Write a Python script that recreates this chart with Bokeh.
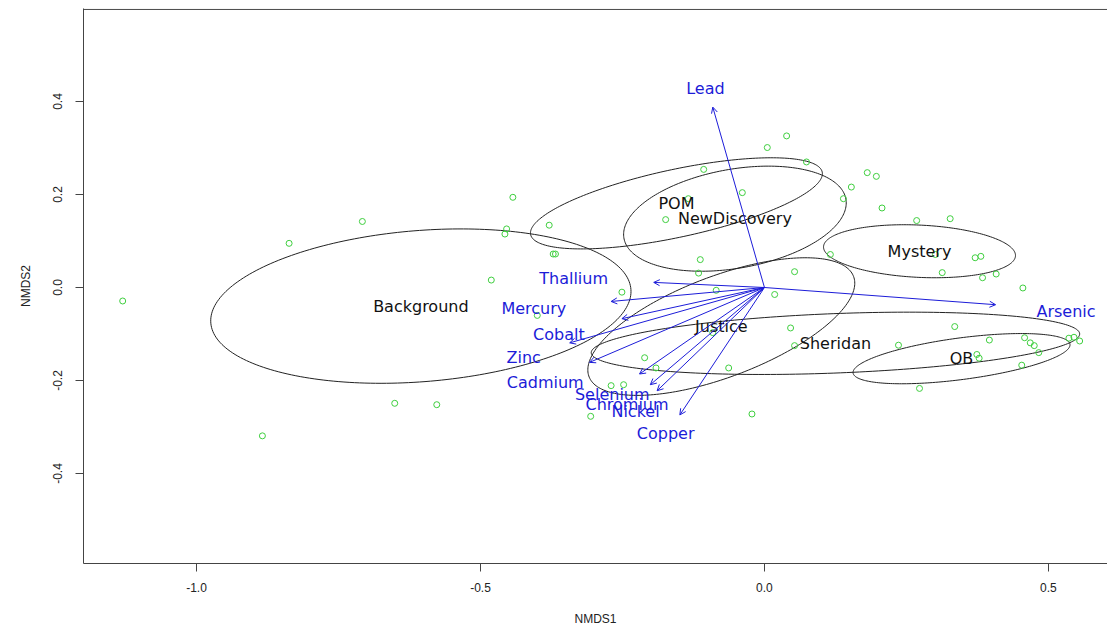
import numpy as np
from bokeh.plotting import figure
from bokeh.models import ColumnDataSource, Arrow, OpenHead, Span, FixedTicker, Range1d
from bokeh.core.properties import value
from bokeh.embed import file_html
from bokeh.resources import INLINE

# ---- site scores (NMDS1, NMDS2) ----
site_x = [-1.130, -0.837, -0.708, -0.481, -0.651, -0.577, -0.884, 0.039, 0.005, 0.074,
          -0.107, 0.181, 0.197, 0.153, 0.139, -0.039, -0.443, -0.379, -0.454, -0.457,
          -0.174, -0.372, -0.368, -0.113, -0.134, 0.207, 0.268, 0.327, 0.301, 0.371,
          0.381, 0.313, 0.384, 0.408, 0.455, 0.053, 0.116, 0.046, 0.053, 0.236,
          0.335, 0.396, 0.458, 0.468, 0.475, 0.483, 0.453, 0.374, 0.378, 0.273,
          0.536, 0.545, 0.555, -0.251, -0.116, -0.085, 0.018, -0.400, -0.091, -0.211,
          -0.191, -0.063, -0.270, -0.248, -0.306, -0.022]
site_y = [-0.029, 0.095, 0.142, 0.016, -0.249, -0.252, -0.319, 0.326, 0.301, 0.270,
          0.254, 0.247, 0.239, 0.216, 0.191, 0.204, 0.194, 0.134, 0.126, 0.115,
          0.146, 0.072, 0.072, 0.060, 0.191, 0.171, 0.144, 0.148, 0.071, 0.064,
          0.067, 0.032, 0.021, 0.029, -0.001, 0.034, 0.071, -0.087, -0.125, -0.124,
          -0.084, -0.113, -0.108, -0.119, -0.125, -0.140, -0.167, -0.144, -0.152, -0.217,
          -0.109, -0.107, -0.115, -0.010, 0.031, -0.006, -0.015, -0.060, -0.097, -0.151,
          -0.173, -0.173, -0.211, -0.209, -0.277, -0.272]

# ---- group ellipses: centre, half-extent in x / y, correlation ----
groups = ["Background", "POM", "NewDiscovery", "Mystery", "Justice", "Sheridan", "OB"]
grp_cx = [-0.605, -0.155, -0.052, 0.273, -0.076, 0.125, 0.347]
grp_cy = [-0.040, 0.181, 0.148, 0.078, -0.084, -0.120, -0.153]
grp_wx = [0.370, 0.257, 0.196, 0.169, 0.235, 0.430, 0.191]
grp_wy = [0.166, 0.098, 0.113, 0.057, 0.148, 0.067, 0.054]
grp_rho = [0.19, 0.65, 0.30, -0.16, 0.63, 0.30, 0.55]

# ---- fitted environmental vectors ----
metals = ["Lead", "Arsenic", "Thallium", "Mercury", "Cobalt", "Zinc", "Cadmium",
          "Selenium", "Chromium", "Nickel", "Copper"]
vec_x = [-0.091, 0.407, -0.195, -0.270, -0.251, -0.343, -0.308, -0.220, -0.201, -0.189, -0.149]
vec_y = [0.388, -0.037, 0.011, -0.030, -0.067, -0.119, -0.161, -0.186, -0.209, -0.222, -0.274]
lab_x = [-0.104, 0.531, -0.336, -0.406, -0.362, -0.424, -0.386, -0.268, -0.242, -0.227, -0.174]
lab_y = [0.427, -0.052, 0.019, -0.046, -0.100, -0.150, -0.204, -0.230, -0.252, -0.267, -0.315]

x_ticks = [-1.0, -0.5, 0.0, 0.5]
x_tick_labels = ["-1.0", "-0.5", "0.0", "0.5"]
y_ticks = [-0.4, -0.2, 0.0, 0.2, 0.4]
y_tick_labels = ["-0.4", "-0.2", "0.0", "0.2", "0.4"]

BLUE = "#1c1cd8"
GREEN = "#3fcf3f"
AXC = "#444444"

p = figure(output_backend="svg", toolbar_location=None,
           frame_width=1024, frame_height=555,
           min_border_left=83, min_border_right=0, min_border_top=8, min_border_bottom=64,
           x_range=Range1d(-1.199, 0.604), y_range=Range1d(-0.5935, 0.600),
           background_fill_color="white", border_fill_color="white")
p.outline_line_color = None
p.xgrid.visible = False
p.ygrid.visible = False

for ax, ticks, labs in ((p.xaxis, x_ticks, x_tick_labels), (p.yaxis, y_ticks, y_tick_labels)):
    ax.ticker = FixedTicker(ticks=ticks)
    ax.major_label_overrides = {t: l for t, l in zip(ticks, labs)}
    ax.minor_tick_line_color = None
    ax.major_tick_in = 0
    ax.major_tick_out = 8
    ax.major_tick_line_color = AXC
    ax.axis_line_color = AXC
    ax.major_label_text_font = "Liberation Sans"
    ax.major_label_text_font_size = "12px"
    ax.major_label_text_color = "#222222"
    ax.axis_label_text_font = "Liberation Sans"
    ax.axis_label_text_font_size = "12px"
    ax.axis_label_text_font_style = "normal"
    ax.axis_label_text_color = "#222222"

p.xaxis.axis_label = "NMDS1"
p.yaxis.axis_label = "NMDS2"
p.xaxis.major_label_standoff = 11
p.xaxis.axis_label_standoff = 17
p.yaxis.major_label_orientation = "vertical"
p.yaxis.major_label_standoff = 13
p.yaxis.axis_label_standoff = 18

# top border of the box
p.add_layout(Span(location=0.598, dimension="width", line_color=AXC, line_width=1))

# ellipses
t = np.linspace(0, 2 * np.pi, 240)
xs, ys = [], []
for cx, cy, wx, wy, r in zip(grp_cx, grp_cy, grp_wx, grp_wy, grp_rho):
    xs.append(list(cx + wx * np.cos(t)))
    ys.append(list(cy + wy * (r * np.cos(t) + np.sqrt(1 - r * r) * np.sin(t))))
p.multi_line(xs, ys, line_color="#222222", line_width=1)

# site points
p.scatter(site_x, site_y, marker="circle", size=6, fill_color=None,
          line_color=GREEN, line_width=1)

# vectors
vsrc = ColumnDataSource(dict(x0=[0.0] * len(vec_x), y0=[0.0] * len(vec_y), x1=vec_x, y1=vec_y))
p.add_layout(Arrow(end=OpenHead(size=6, line_color=BLUE, line_width=1),
                   x_start="x0", y_start="y0", x_end="x1", y_end="y1",
                   source=vsrc, line_color=BLUE, line_width=1))

p.text(x=lab_x, y=lab_y, text=metals, text_font=value("DejaVu Sans"),
       text_font_size="16px", text_color=BLUE, text_align="center", text_baseline="middle")

p.text(x=grp_cx, y=grp_cy, text=groups, text_font=value("DejaVu Sans"),
       text_font_size="16px", text_color="#111111", text_align="center", text_baseline="middle")

open("out.html", "w").write(file_html(p, INLINE))
